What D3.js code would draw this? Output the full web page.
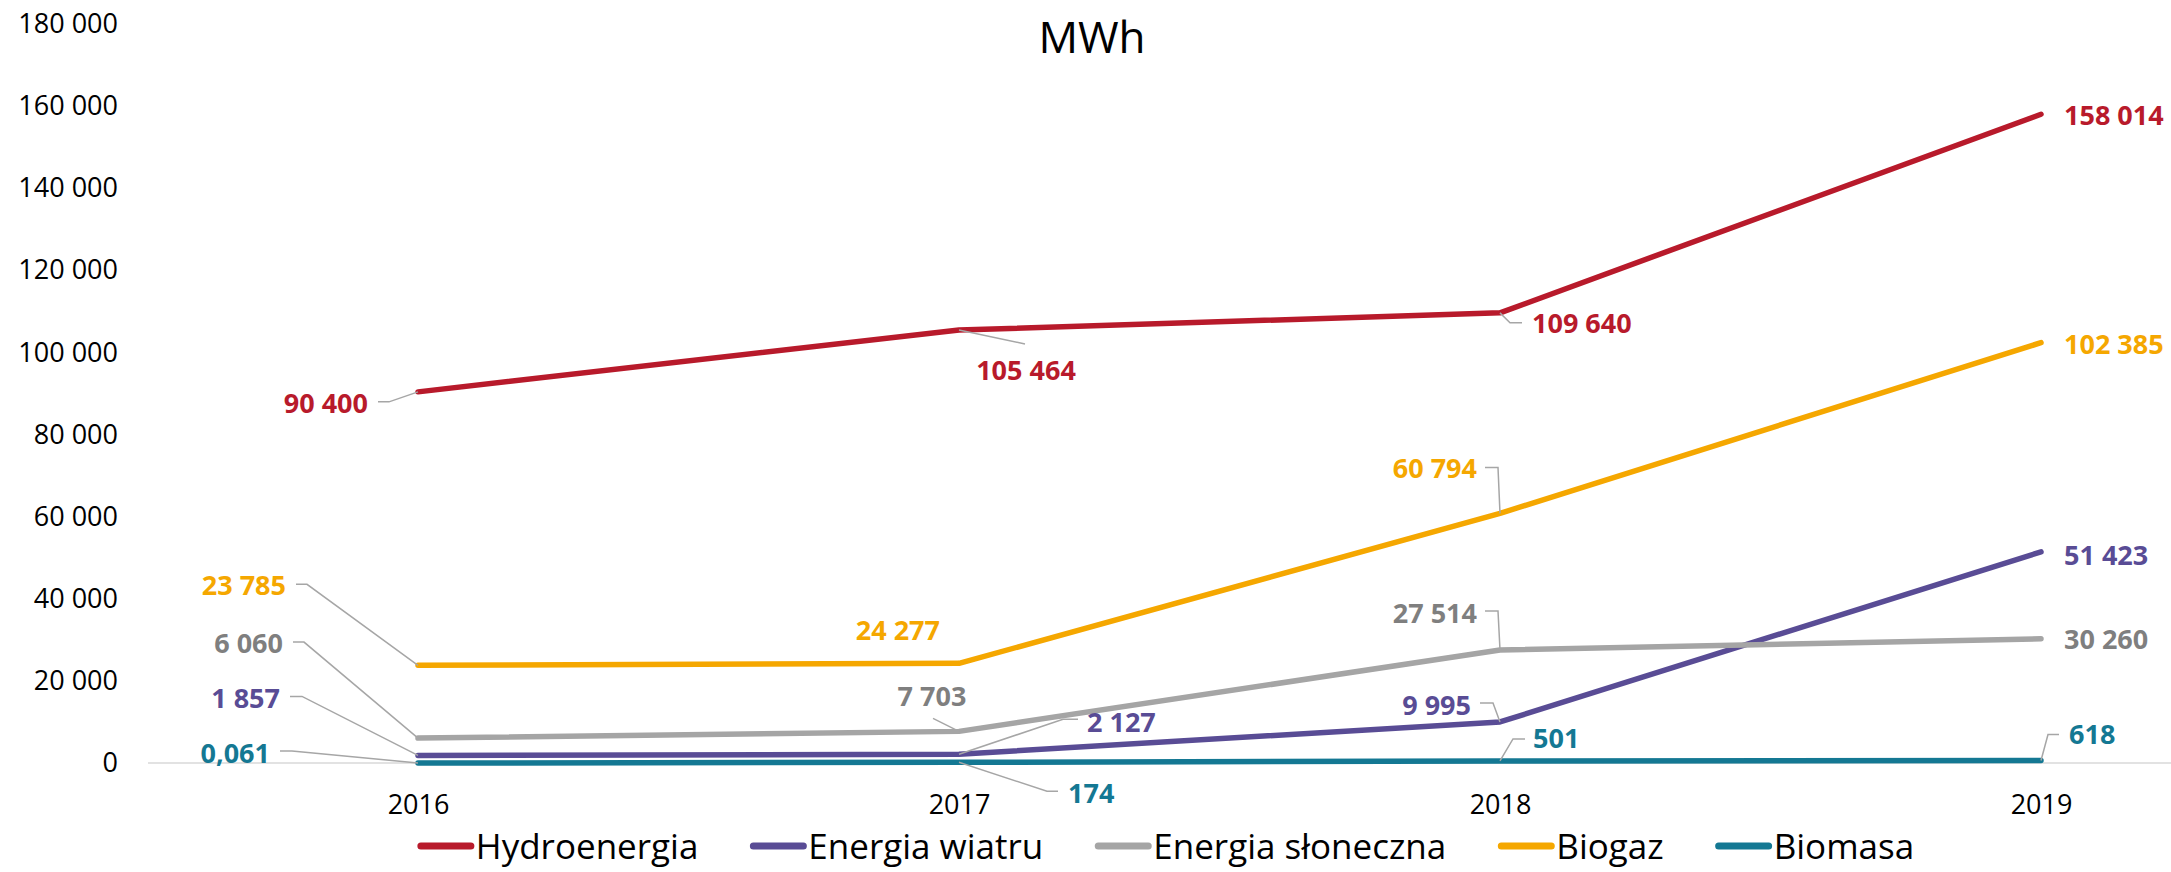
<!DOCTYPE html>
<html>
<head>
<meta charset="utf-8">
<script src="https://cdn.jsdelivr.net/npm/d3@7"></script>
<style>
  body { margin: 0; background: #fff; }
  svg { display: block; font-family: "Open Sans", sans-serif; }
</style>
</head>
<body>
<div class="chart"></div>
<script>
"use strict";

// data
var years = ["2016", "2017", "2018", "2019"];
var seriesNames = ["Hydroenergia", "Energia wiatru", "Energia słoneczna", "Biogaz", "Biomasa"];
var hydro   = [90400, 105464, 109640, 158014];
var wind    = [1857, 2127, 9995, 51423];
var solar   = [6060, 7703, 27514, 30260];
var biogas  = [23785, 24277, 60794, 102385];
var biomass = [0.061, 174, 501, 618];
var yTicks  = [0, 20000, 40000, 60000, 80000, 100000, 120000, 140000, 160000, 180000];

var lineColors  = ["#b81a2b", "#594c95", "#a5a5a5", "#f5a700", "#147893"];
var labelColors = ["#b81a2b", "#594c95", "#7f7f7f", "#f5a700", "#147893"];

// label placement, px relative to the point: text offset, anchor, leader path
var labelPos = [
  [ {dx: -50, dy: 11, a: "end", l: [[-40, 10], [-29, 10], [0, 0]]},
    {dx: 67, dy: 40, a: "middle", l: [[0, 0], [66, 14]]},
    {dx: 32, dy: 10, a: "start", l: [[0, 0], [10, 10], [22, 10]]},
    {dx: 23, dy: 1, a: "start", l: null} ],
  [ {dx: -138, dy: -57, a: "end", l: [[-128, -59], [-116, -59], [0, 0]]},
    {dx: 128, dy: -32, a: "start", l: [[0, 0], [104, -35], [119, -35]]},
    {dx: -29, dy: -17, a: "end", l: [[-20, -19], [-7, -19], [0, 0]]},
    {dx: 23, dy: 3, a: "start", l: null} ],
  [ {dx: -135, dy: -95, a: "end", l: [[-125, -96], [-114, -96], [0, 0]]},
    {dx: -27, dy: -35, a: "middle", l: [[0, 0], [-26, -13]]},
    {dx: -23, dy: -37, a: "end", l: [[-15, -39], [-2, -39], [0, 0]]},
    {dx: 23, dy: 1, a: "start", l: null} ],
  [ {dx: -132, dy: -80, a: "end", l: [[-122, -81], [-111, -81], [0, 0]]},
    {dx: -19, dy: -33, a: "end", l: null},
    {dx: -23, dy: -45, a: "end", l: [[-15, -46], [-2, -46], [0, 0]]},
    {dx: 23, dy: 2, a: "start", l: null} ],
  [ {dx: -148, dy: -10, a: "end", l: [[-138, -12], [-126, -12], [0, 0]]},
    {dx: 109, dy: 31, a: "start", l: [[0, 0], [88, 29], [99, 29]]},
    {dx: 33, dy: -23, a: "start", l: [[0, 0], [13, -22], [25, -22]]},
    {dx: 28, dy: -26, a: "start", l: [[0, 0], [7, -26], [18, -26]]} ]
];

var width = 2171, height = 872;
var allSeries = [hydro, wind, solar, biogas, biomass];

var pl = d3.formatLocale({decimal: ",", thousands: " ", grouping: [3], currency: ["", " zł"]});
var fmtInt = pl.format(",.0f"), fmtDec = pl.format(",.3f");
function fmtVal(v) { return v < 1 ? fmtDec(v) : fmtInt(v); }

var svg = d3.select("div.chart").append("svg")
    .attr("width", width)
    .attr("height", height);

var x = d3.scalePoint().domain(years).range([418, 2041]);
var y = d3.scaleLinear().domain([0, 180000]).range([763, 24]);

// title
svg.append("text")
    .attr("x", 1092)
    .attr("y", 53)
    .attr("text-anchor", "middle")
    .style("font-size", "44px")
    .attr("fill", "#000")
    .text("MWh");

// y axis
var yAxis = svg.append("g")
    .attr("transform", "translate(118,0)")
    .call(d3.axisLeft(y).tickValues(yTicks).tickSize(0).tickPadding(0).tickFormat(fmtInt));
yAxis.select(".domain").remove();
yAxis.selectAll("text").style("font-size", "27px").style("font-family", "Open Sans").attr("fill", "#000");

// zero line
svg.append("line")
    .attr("x1", 148).attr("x2", width)
    .attr("y1", y(0)).attr("y2", y(0))
    .attr("stroke", "#d9d9d9")
    .attr("stroke-width", 1.5);

// x axis
var xAxis = svg.append("g")
    .attr("transform", "translate(0," + y(0) + ")")
    .call(d3.axisBottom(x).tickSize(0).tickPadding(32));
xAxis.select(".domain").remove();
xAxis.selectAll("text").style("font-size", "27px").style("font-family", "Open Sans").attr("fill", "#000");

// lines
var line = d3.line()
    .x(function (d, i) { return x(years[i]); })
    .y(function (d) { return y(d); });

svg.append("g").selectAll("path")
    .data(allSeries)
    .enter()
    .append("path")
    .attr("d", line)
    .attr("fill", "none")
    .attr("stroke", function (d, i) { return lineColors[i]; })
    .attr("stroke-width", 5.5)
    .attr("stroke-linecap", "round")
    .attr("stroke-linejoin", "round");

// data labels + leader lines
var leaderG = svg.append("g");
var labelG = svg.append("g");
allSeries.forEach(function (vals, s) {
    vals.forEach(function (v, i) {
        var px = x(years[i]), py = y(v), p = labelPos[s][i];
        if (p.l) {
            leaderG.append("path")
                .attr("d", d3.line()(p.l.map(function (q) { return [px + q[0], py + q[1]]; })))
                .attr("fill", "none")
                .attr("stroke", "#a6a6a6")
                .attr("stroke-width", 1.5);
        }
        labelG.append("text")
            .attr("x", px + p.dx)
            .attr("y", py + p.dy)
            .attr("dy", "0.36em")
            .attr("text-anchor", p.a)
            .style("font-size", "27px")
            .style("font-weight", "bold")
            .attr("fill", labelColors[s])
            .text(fmtVal(v));
    });
});

// legend
var legendY = 846;
var legend = svg.append("g");
var lx = 0;
seriesNames.forEach(function (name, i) {
    var g = legend.append("g");
    g.append("line")
        .attr("x1", 3).attr("x2", 53)
        .attr("y1", 0).attr("y2", 0)
        .attr("stroke", lineColors[i])
        .attr("stroke-width", 7)
        .attr("stroke-linecap", "round");
    var t = g.append("text")
        .attr("x", 58)
        .attr("dy", "0.36em")
        .style("font-size", "35px")
        .attr("fill", "#000")
        .text(name);
    g.attr("transform", "translate(" + lx + ",0)");
    lx += 58 + t.node().getComputedTextLength() + 52;
});
var legendW = lx - 52;
legend.attr("transform", "translate(" + (1166 - legendW / 2) + "," + legendY + ")");
</script>
</body>
</html>
